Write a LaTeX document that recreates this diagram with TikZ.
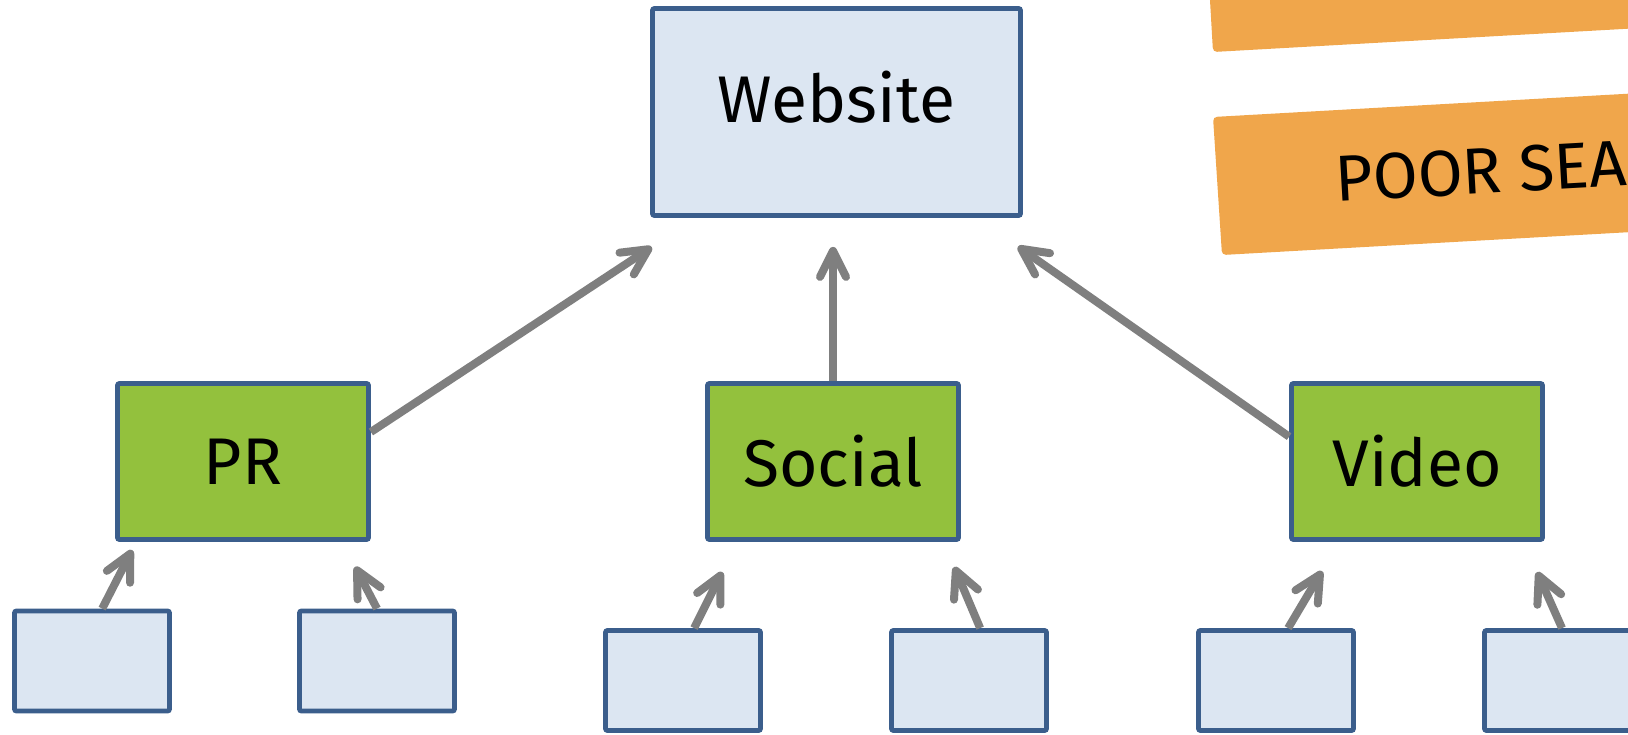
\documentclass[tikz,border=0pt]{standalone}
\usepackage{fontspec}
\setmainfont{Fira Sans}
\usetikzlibrary{arrows.meta}
\definecolor{paleblue}{HTML}{DCE6F2}
\definecolor{edgeblue}{HTML}{3B5E8C}
\definecolor{leafgreen}{HTML}{93C13D}
\definecolor{flagorange}{HTML}{F0A64B}
\definecolor{arrgray}{HTML}{7F7F7F}

\begin{document}
\begin{tikzpicture}[
  x=0.5pt, y=-0.5pt,
  font=\fontsize{33}{40}\selectfont,
  cell/.style={
    rectangle, rounded corners=1pt,
    draw=edgeblue, fill=#1,
    line width=2.4pt, inner sep=0pt
  },
  sitebox/.style={cell=paleblue, minimum width=184pt, minimum height=103.5pt, text depth=15pt},
  topicbox/.style={cell=leafgreen, minimum width=125.5pt, minimum height=78pt},
  leafbox/.style={cell=paleblue, minimum width=77.5pt, minimum height=50pt},
  flag/.style={fill=flagorange, rounded corners=2pt},
  arr/.style={-{Straight Barb[length=13pt,width=13pt,round]}, line width=4pt, color=arrgray}
]
\useasboundingbox (0,0) rectangle (1628,734);
\clip (0,0) rectangle (1628,734);

% banners on the right
\fill[flag] (1205,-86) -- (1213,52) -- (1712,24) -- (1704,-114) -- cycle;
\fill[flag] (1213,117) -- (1222,255) -- (1721,227) -- (1712,89) -- cycle;
\node[anchor=base west, rotate=3.2, inner sep=0pt, font=\fontsize{32.5}{38}\selectfont] (poor) at (1336,202) {POOR SEA};

\node[sitebox] (web) at (836.5,112) {Website};

\node[topicbox] (pr) at (243,461.5) {PR};
\node[topicbox] (social) at (833,461.5) {Social};
\node[topicbox] (video) at (1417,461.5) {Video};

\node[leafbox] (pra) at (92,661) {};
\node[leafbox] (prb) at (377,661) {};
\node[leafbox] (soca) at (683,680.5) {};
\node[leafbox] (socb) at (969,680.5) {};
\node[leafbox] (vida) at (1276,680.5) {};
\node[leafbox] (vidb) at (1562,680.5) {};

\draw[arr, shorten >=26.5pt] (pr.13.8) -- (web.217.1);
\draw[arr, shorten >=14.5pt] (social.north) -- (social.north |- web.south);
\draw[arr, shorten >=25pt] (video.169.1) -- (web.323.7);

\draw[arr, shorten >=4.6pt] (pra.79.1) -- (pr.217.9);
\draw[arr, shorten >=14pt] (prb.north) -- (pr.321.3);
\draw[arr, shorten >=16.8pt] (soca.78.9) -- (social.220.4);
\draw[arr, shorten >=13.6pt] (socb.78.2) -- (social.324.5);
\draw[arr, shorten >=17pt] (vida.77.1) -- (video.226.1);
\draw[arr, shorten >=16.5pt] (vidb.north) -- (video.323.2);
\end{tikzpicture}
\end{document}
